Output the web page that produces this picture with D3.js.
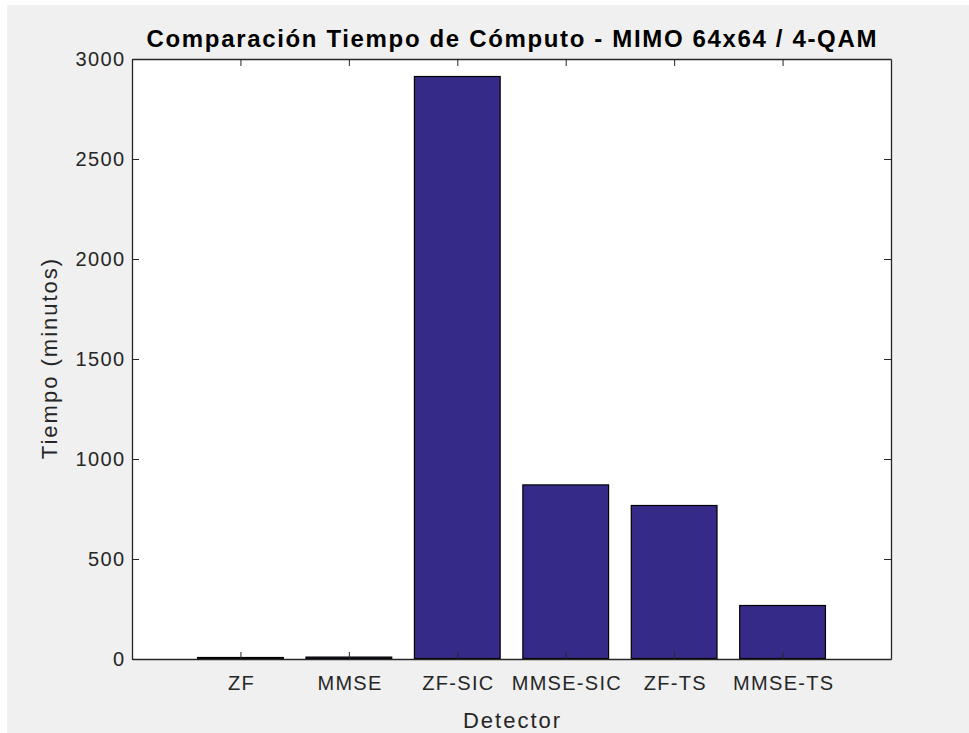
<!DOCTYPE html>
<html>
<head>
<meta charset="utf-8">
<script src="https://cdn.jsdelivr.net/npm/d3@7"></script>
<style>
  html, body { margin: 0; padding: 0; background: #ffffff; }
  svg { display: block; }
</style>
</head>
<body>
<div id="chart"></div>
<script>
const categories = ["ZF", "MMSE", "ZF-SIC", "MMSE-SIC", "ZF-TS", "MMSE-TS"];
const values = [10, 12, 2915, 873, 770, 270];
const yTicks = [0, 500, 1000, 1500, 2000, 2500, 3000];
const titleText = "Comparación Tiempo de Cómputo - MIMO 64x64 / 4-QAM";
const xLabel = "Detector";
const yLabel = "Tiempo (minutos)";

const W = 969, H = 733;
const plot = { left: 132, right: 891, top: 59, bottom: 659 };
const axisColor = "#262626";
const font = "'Liberation Sans', Arial, Helvetica, sans-serif";

const svg = d3.select("#chart").append("svg")
  .attr("width", W).attr("height", H);

// figure background (white border on top/left)
svg.append("rect").attr("x", 0).attr("y", 0).attr("width", W).attr("height", H).attr("fill", "#ffffff");
svg.append("rect").attr("x", 7).attr("y", 5).attr("width", W - 7).attr("height", H - 5).attr("fill", "#f0f0f0");

const x = d3.scaleLinear().domain([0, categories.length + 1]).range([plot.left, plot.right]);
const y = d3.scaleLinear().domain([0, 3000]).range([plot.bottom, plot.top]);

// axes area
svg.append("rect")
  .attr("x", plot.left).attr("y", plot.top)
  .attr("width", plot.right - plot.left).attr("height", plot.bottom - plot.top)
  .attr("fill", "#ffffff");

const barW = (x(1) - x(0)) * 0.8;

svg.append("g").selectAll("rect")
  .data(values)
  .join("rect")
  .attr("x", (d, i) => x(i + 1) - barW / 2 + 0.5)
  .attr("y", d => y(d) + 0.5)
  .attr("width", barW - 1)
  .attr("height", d => Math.max(0, y(0) - y(d) - 1))
  .attr("fill", "#352a87")
  .attr("stroke", "#000000")
  .attr("stroke-width", 1.2);

const tickLen = 7;
const tickFs = 20, tickLs = 1.3;

// Bottom axis (ticks inward)
const xAxisB = d3.axisBottom(x)
  .tickValues(d3.range(1, categories.length + 1))
  .tickFormat(d => categories[d - 1])
  .tickSizeInner(-tickLen).tickSizeOuter(0).tickPadding(24);
const gB = svg.append("g").attr("transform", `translate(0,${plot.bottom})`).call(xAxisB);

const xAxisT = d3.axisTop(x)
  .tickValues(d3.range(1, categories.length + 1))
  .tickFormat("")
  .tickSizeInner(-tickLen).tickSizeOuter(0);
const gT = svg.append("g").attr("transform", `translate(0,${plot.top})`).call(xAxisT);

const yAxisL = d3.axisLeft(y).tickValues(yTicks).tickFormat(d3.format("d"))
  .tickSizeInner(-tickLen).tickSizeOuter(0).tickPadding(8);
const gL = svg.append("g").attr("transform", `translate(${plot.left},0)`).call(yAxisL);

const yAxisR = d3.axisRight(y).tickValues(yTicks).tickFormat("")
  .tickSizeInner(-tickLen).tickSizeOuter(0);
const gR = svg.append("g").attr("transform", `translate(${plot.right},0)`).call(yAxisR);

[gB, gT, gL, gR].forEach(g => {
  g.select(".domain").attr("stroke", axisColor).attr("stroke-width", 1.3);
  g.selectAll(".tick line").attr("stroke", axisColor).attr("stroke-width", 1);
  g.selectAll(".tick text")
    .attr("fill", axisColor)
    .style("font-family", font)
    .style("font-size", tickFs + "px")
    .style("letter-spacing", tickLs + "px");
});
gB.selectAll(".tick text").attr("dy", "0.35em").attr("dx", tickLs / 2);
gL.selectAll(".tick text").attr("dx", tickLs);

// Title
const titleLs = 1.65;
svg.append("text")
  .attr("x", (plot.left + plot.right) / 2)
  .attr("y", 47)
  .attr("dx", titleLs / 2)
  .attr("text-anchor", "middle")
  .style("font-family", font)
  .style("font-size", "24px")
  .style("font-weight", "bold")
  .style("letter-spacing", titleLs + "px")
  .attr("fill", "#000000")
  .text(titleText);

// X label
const labLs = 2;
svg.append("text")
  .attr("x", (plot.left + plot.right) / 2)
  .attr("y", 728)
  .attr("dx", labLs / 2)
  .attr("text-anchor", "middle")
  .style("font-family", font)
  .style("font-size", "22px")
  .style("letter-spacing", labLs + "px")
  .attr("fill", axisColor)
  .text(xLabel);

// Y label
svg.append("text")
  .attr("transform", `translate(57,${(plot.top + plot.bottom) / 2}) rotate(-90)`)
  .attr("dx", labLs / 2)
  .attr("text-anchor", "middle")
  .style("font-family", font)
  .style("font-size", "22px")
  .style("letter-spacing", labLs + "px")
  .attr("fill", axisColor)
  .text(yLabel);
</script>
</body>
</html>
